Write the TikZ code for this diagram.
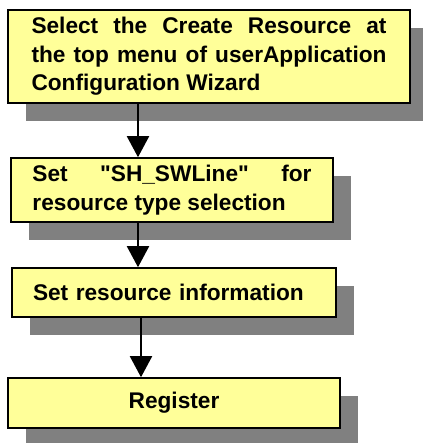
\documentclass[tikz,border=0pt]{standalone}
\usepackage{fontspec}
\setmainfont{Liberation Sans}[Ligatures=TeXOff]
\usetikzlibrary{arrows.meta}
\definecolor{boxfill}{HTML}{FFFF99}
\definecolor{shadowgray}{HTML}{808080}
\begin{document}
\begin{tikzpicture}[x=0.75pt,y=-0.75pt,
  stepbox/.style={draw=black,line width=1.2pt,fill=boxfill,rectangle,inner sep=0pt,
    font=\fontsize{17pt}{21.5pt}\selectfont\bfseries},
  shadowbox/.style={fill=shadowgray,draw=none},
  arr/.style={line width=1.5pt,-{Triangle[length=15.75pt,width=16.5pt]}}]
\useasboundingbox (0,0) rectangle (422,443);
% shadows
\fill[shadowgray] (26,28) rectangle (428,121);
\fill[shadowgray] (29,176) rectangle (351,240);
\fill[shadowgray] (30,286) rectangle (354,335);
\fill[shadowgray] (26,396) rectangle (358,446);
% boxes
\node[stepbox,minimum width=301.5pt,minimum height=69.75pt,text width=266.25pt,align=justify]
  (b1) at (209,56.5) {Select the Create Resource at\linebreak the top menu of userApplication\linebreak Configuration Wizard};
\node[stepbox,minimum width=241.5pt,minimum height=48pt,text width=209.25pt,align=justify]
  (b2) at (172,190) {Set "SH\_SWLine" for\linebreak resource type selection};
\node[stepbox,minimum width=243pt,minimum height=36.75pt,text width=211.5pt,align=left]
  (b3) at (174,292.5) {Set resource information};
\node[stepbox,minimum width=249pt,minimum height=37.5pt,align=center]
  (b4) at (174,403) {Register};
% arrows
\coordinate (ax1) at (138,0);
\coordinate (ax3) at (141,0);
\draw[arr] (b1.south -| ax1) -- (b2.north -| ax1);
\draw[arr] (b2.south -| ax1) -- (b3.north -| ax1);
\draw[arr] (b3.south -| ax3) -- (b4.north -| ax3);
\end{tikzpicture}
\end{document}
